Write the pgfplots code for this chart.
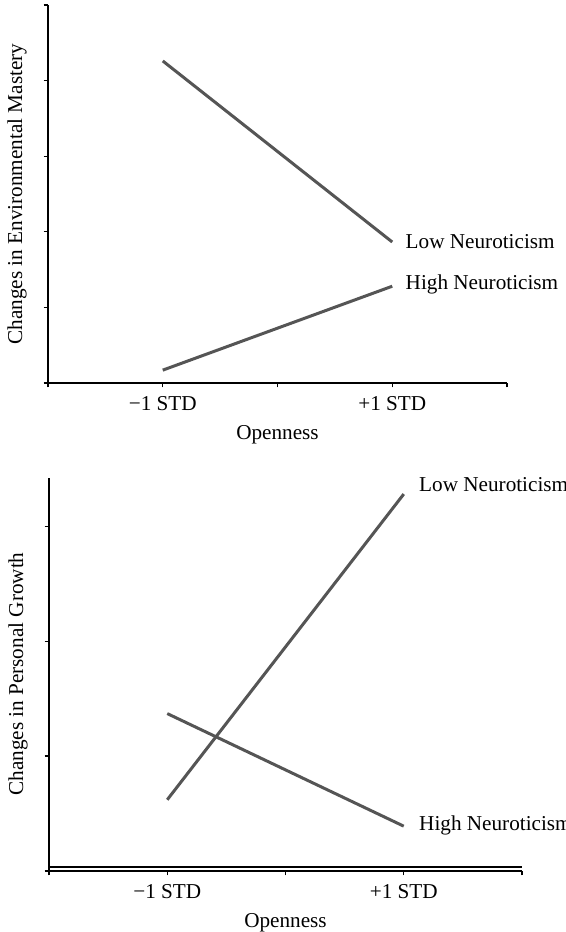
\documentclass[border=0pt]{standalone}
\usepackage{fontspec}
\setmainfont{Liberation Serif}
\usepackage{pgfplots}
\pgfplotsset{compat=1.18}
\definecolor{linegray}{HTML}{555555}
\pgfplotsset{
  panel/.style={
    scale only axis,
    axis x line*=bottom,
    axis y line*=left,
    axis line style={-, black, line width=0.6pt},
    tick align=outside,
    major tick length=2.2pt,
    tick style={black, line width=0.6pt},
    xmin=0, xmax=4,
    xtick={0,1,2,3,4},
    xticklabels={,−1 STD,,+1 STD,},
    yticklabels={},
    xlabel={Openness},
    xticklabel style={yshift=-1pt},
    xlabel style={yshift=0pt},
    clip=false,
  },
  gline/.style={linegray, line width=1.5pt, mark=none},
}
\begin{document}
\fontsize{10.6}{12.7}\selectfont
\begin{tikzpicture}[font=\fontsize{10.6}{12.7}\selectfont]
\useasboundingbox (0,0) rectangle (283pt,466pt);
% Top panel
\begin{axis}[panel,
  at={(24pt,274.5pt)}, anchor=south west,
  width=229.5pt, height=189pt,
  ymin=0, ymax=5, ytick={0,1,2,3,4,5},
  ylabel={Changes in Environmental Mastery},
  ylabel style={at={(axis description cs:-0.0675,0.5)}, anchor=center},
]
\addplot[gline] coordinates {(1,4.26) (3,1.865)};
\addplot[gline] coordinates {(1,0.17) (3,1.28)};
\node[anchor=west, xshift=3pt] at (axis cs:3,1.865) {Low Neuroticism};
\node[anchor=west, xshift=3pt] at (axis cs:3,1.30) {High Neuroticism};
\end{axis}
% Bottom panel
\begin{axis}[panel,
  at={(24.5pt,30.5pt)}, anchor=south west,
  width=236.5pt, height=196.5pt,
  ymin=0, ymax=3.42, ytick={0,1,2,3},
  ylabel={Changes in Personal Growth},
  ylabel style={at={(axis description cs:-0.0655,0.501)}, anchor=center},
]
\draw[black, line width=0.6pt] (axis cs:0,0.035) -- (axis cs:4,0.035);
\addplot[gline] coordinates {(1,0.62) (3,3.28)};
\addplot[gline] coordinates {(1,1.37) (3,0.39)};
\node[anchor=west, xshift=4pt] at (axis cs:3,3.36) {Low Neuroticism};
\node[anchor=west, xshift=4pt] at (axis cs:3,0.40) {High Neuroticism};
\end{axis}
\end{tikzpicture}
\end{document}
